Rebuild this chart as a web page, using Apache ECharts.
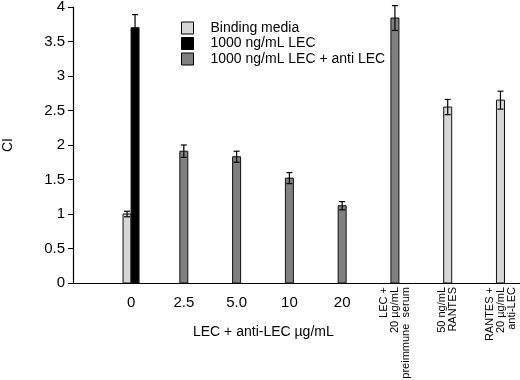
<!DOCTYPE html>
<html>
<head>
<meta charset="utf-8">
<script src="https://cdn.jsdelivr.net/npm/echarts@6.0.0/dist/echarts.min.js"></script>
<style>
  html, body { margin: 0; background: #fff; }
  #chart { width: 520px; height: 380px; }
</style>
</head>
<body>
<div id="chart"></div>
<script>
// categories along the x axis (first five are anti-LEC doses)
const categories = [
  "0", "2.5", "5.0", "10", "20",
  "LEC +\n20 µg/mL\npreimmune  serum",
  "50 ng/mL\nRANTES",
  "RANTES +\n20 µg/mL\nanti-LEC"
];
const doseCount = 5;

const bindingMedia = [1.0, null, null, null, null, null, 2.55, 2.65];
const bindingErr = [0.04, null, null, null, null, null, 0.11, 0.13];

const lec1000 = [3.7, null, null, null, null, null, null, null];
const lec1000Err = [0.19, null, null, null, null, null, null, null];

const lecAnti = [null, 1.91, 1.83, 1.52, 1.12, 3.84, null, null];
const lecAntiErr = [null, 0.09, 0.08, 0.08, 0.06, 0.18, null, null];

const yTicks = { min: 0, max: 4, step: 0.5 };

const seriesDefs = [
  { name: "Binding media", values: bindingMedia, errors: bindingErr, color: "#d6d6d6" },
  { name: "1000 ng/mL LEC", values: lec1000, errors: lec1000Err, color: "#000000" },
  { name: "1000 ng/mL LEC + anti LEC", values: lecAnti, errors: lecAntiErr, color: "#808080" }
];

const barW = 8;

// which bars share a category -> side by side, otherwise centred
function slotOffset(seriesIdx, catIdx) {
  const present = seriesDefs
    .map((s, k) => (s.values[catIdx] != null ? k : -1))
    .filter(k => k >= 0);
  const slot = present.indexOf(seriesIdx);
  return (slot - (present.length - 1) / 2) * barW;
}

function makeSeries(def, sIdx) {
  return {
    name: def.name,
    type: "custom",
    itemStyle: { color: def.color, borderColor: "#000" },
    data: def.values
      .map((v, i) => [i, v, def.errors[i]])
      .filter(d => d[1] != null),
    renderItem: function (params, api) {
      const i = api.value(0), v = api.value(1), e = api.value(2);
      const top = api.coord([i, v]);
      const base = api.coord([i, 0]);
      const cx = top[0] + slotOffset(sIdx, i);
      const hi = api.coord([i, v + e])[1];
      const lo = api.coord([i, v - e])[1];
      const cap = 3;
      const lineStyle = { stroke: "#000", lineWidth: 1.2 };
      return {
        type: "group",
        children: [
          {
            type: "rect",
            shape: { x: cx - barW / 2, y: top[1], width: barW, height: base[1] - top[1] },
            style: { fill: def.color, stroke: "#111", lineWidth: 1 }
          },
          { type: "line", shape: { x1: cx, y1: hi, x2: cx, y2: lo }, style: lineStyle },
          { type: "line", shape: { x1: cx - cap, y1: hi, x2: cx + cap, y2: hi }, style: lineStyle },
          { type: "line", shape: { x1: cx - cap, y1: lo, x2: cx + cap, y2: lo }, style: lineStyle }
        ]
      };
    }
  };
}

const chart = echarts.init(document.getElementById("chart"));

const xBase = {
  type: "value",
  min: -1.1,
  max: 7.37,
  splitLine: { show: false },
  axisTick: { show: false },
  position: "bottom"
};

const option = {
  animation: false,
  textStyle: { fontFamily: "Liberation Sans, Arial, sans-serif", color: "#000" },
  title: {
    text: "LEC + anti-LEC µg/mL",
    left: 188,
    top: 320,
    textStyle: { fontSize: 14, fontWeight: "normal", color: "#000", fontFamily: "Liberation Sans" }
  },
  legend: {
    orient: "vertical",
    left: 181,
    top: 21,
    padding: 0,
    itemWidth: 12,
    itemHeight: 12,
    itemGap: 1.5,
    selectedMode: false,
    textStyle: { fontSize: 14, color: "#000", padding: [0, 0, 0, 12] },
    data: seriesDefs.map(s => ({
      name: s.name,
      icon: "rect",
      itemStyle: { color: s.color, borderColor: "#000", borderWidth: 1 }
    }))
  },
  grid: { left: 73, right: 0, top: 7, bottom: 97, outerBoundsMode: "none", containLabel: false },
  xAxis: [
    Object.assign({}, xBase, {
      axisLine: { onZero: false, lineStyle: { color: "#000", width: 1.2 } },
      axisLabel: {
        customValues: categories.slice(0, doseCount).map((c, i) => i),
        formatter: v => categories[v],
        fontSize: 15,
        margin: 12,
        color: "#000"
      }
    }),
    Object.assign({}, xBase, {
      axisLine: { show: false, onZero: false },
      axisLabel: {
        customValues: categories.slice(doseCount).map((c, i) => i + doseCount),
        formatter: v => categories[v],
        rotate: 90,
        fontSize: 11,
        lineHeight: 11,
        margin: 4,
        color: "#000"
      }
    })
  ],
  yAxis: {
    type: "value",
    min: yTicks.min,
    max: yTicks.max,
    interval: yTicks.step,
    name: "CI",
    nameLocation: "middle",
    nameGap: 58,
    nameTextStyle: { fontSize: 14, color: "#000" },
    splitLine: { show: false },
    axisLine: { show: true, onZero: false, lineStyle: { color: "#000", width: 1.2 } },
    axisTick: { show: true, length: 5, lineStyle: { color: "#000" } },
    axisLabel: { fontSize: 15, margin: 8, color: "#000" }
  },
  series: seriesDefs.map(makeSeries)
};

chart.setOption(option);
</script>
</body>
</html>
